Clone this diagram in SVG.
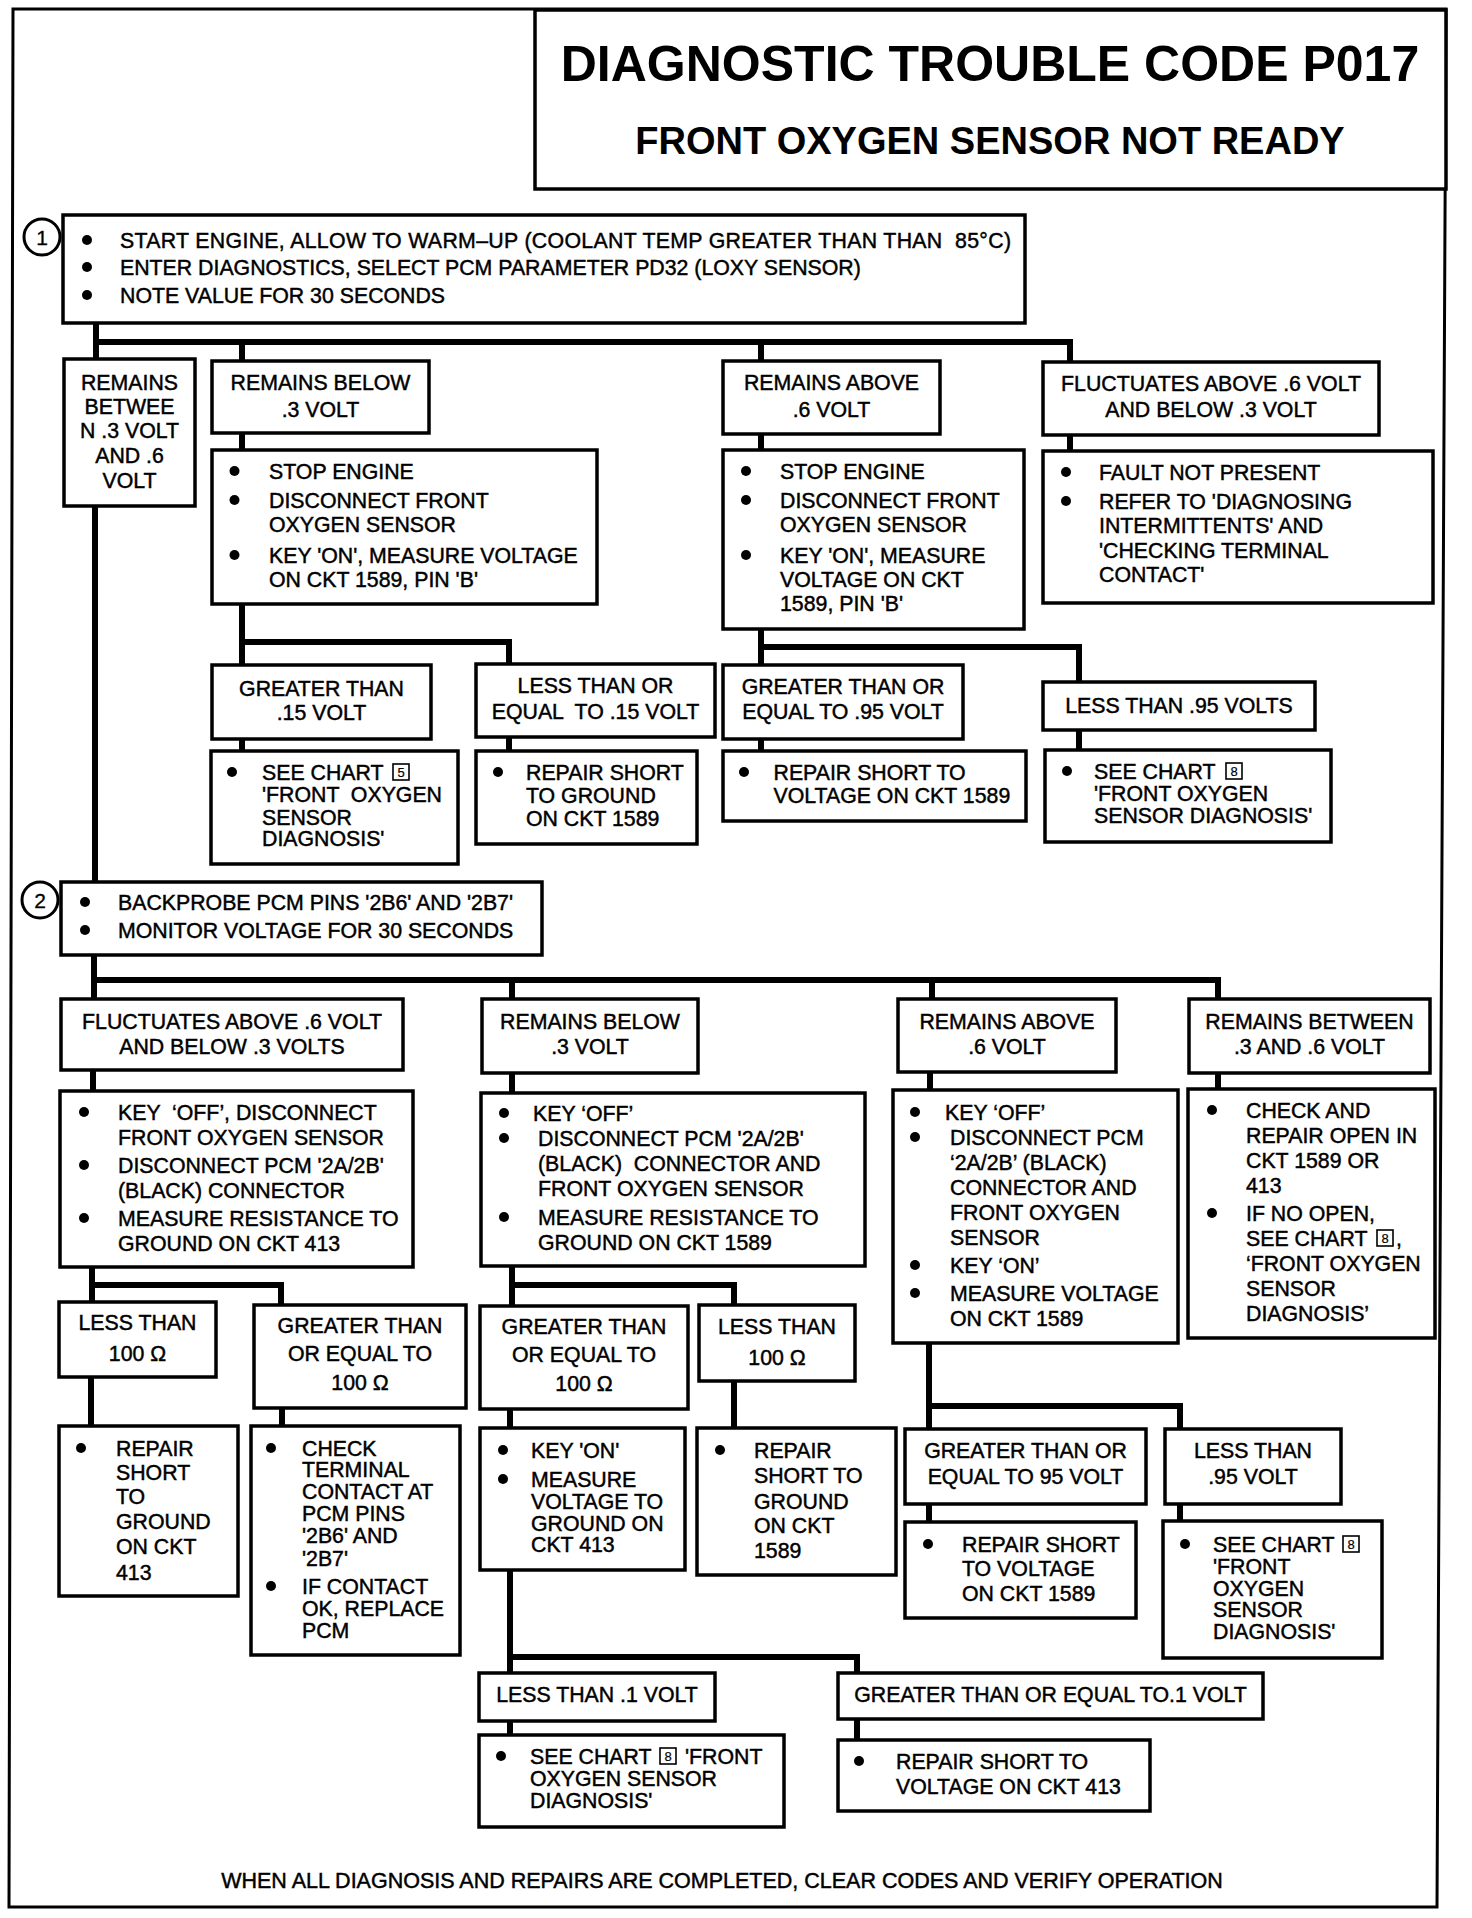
<svg xmlns="http://www.w3.org/2000/svg" width="1472" height="1918" viewBox="0 0 1472 1918">
<style>
text{font-family:"Liberation Sans",Arial,Helvetica,sans-serif;font-size:21.3px;fill:#000;stroke:#000;stroke-width:0.45}
.m{text-anchor:middle}
.t1{font-size:50px;font-weight:bold;stroke-width:0}
.t2{font-size:38px;font-weight:bold;stroke-width:0}
.ft{font-size:21.5px}
.n{font-size:21px;stroke-width:0.3}
.ic{font-size:13px;stroke-width:0.2}
.bx{fill:#fff;stroke:#000;stroke-width:3.5}
.ico{fill:none;stroke:#000;stroke-width:1.6}
.cn{fill:none;stroke:#000;stroke-width:6;stroke-linecap:square}
.d{fill:#000}
.circ{fill:#fff;stroke:#000;stroke-width:3}
</style>
<rect width="1472" height="1918" fill="#fff"/>
<polygon points="13,9 1446,9 1437,1907 9,1907" fill="none" stroke="#000" stroke-width="3"/>

<g id="connectors">
<path class="cn" d="M96 323 V359 M96 342 H1070 V362 M242 342 V361 M761 342 V361"/>
<path class="cn" d="M242 433 V450 M761 434 V450 M1070 435 V451"/>
<path class="cn" d="M242 604 V665 M242 642 H509 V664 M761 629 V665 M761 647 H1079 V682"/>
<path class="cn" d="M242 739 V751 M509 737 V751 M761 739 V751 M1079 730 V750"/>
<path class="cn" d="M95 506 V882"/>
<path class="cn" d="M94 955 V999 M94 980 H1218 V999 M512 980 V999 M932 980 V999"/>
<path class="cn" d="M93 1070 V1091 M512 1073 V1093 M930 1072 V1090 M1218 1073 V1089"/>
<path class="cn" d="M92 1267 V1302 M92 1285 H281 V1305 M512 1266 V1306 M512 1285 H734 V1305"/>
<path class="cn" d="M91 1377 V1426 M282 1408 V1426 M510 1409 V1428 M734 1381 V1428"/>
<path class="cn" d="M929 1343 V1429 M929 1406 H1180 V1429 M929 1504 V1522 M1180 1504 V1521"/>
<path class="cn" d="M510 1570 V1673 M510 1657 H857 V1673 M510 1721 V1735 M857 1719 V1740"/>
</g>

<g id="title">
<rect class="bx" x="535" y="10" width="911" height="179" stroke-width="4"/>
<text class="t1 m" x="990" y="81">DIAGNOSTIC TROUBLE CODE P017</text>
<text class="t2 m" x="990" y="154">FRONT OXYGEN SENSOR NOT READY</text>
</g>

<g id="step1">
<circle class="circ" cx="42" cy="237" r="18"/>
<text class="n m" x="42" y="245">1</text>
<rect class="bx" x="63" y="215" width="962" height="108"/>
<circle class="d" cx="87" cy="240" r="5"/><text x="120" y="248" xml:space="preserve" textLength="891" lengthAdjust="spacing">START ENGINE, ALLOW TO WARM–UP (COOLANT TEMP GREATER THAN THAN  85°C)</text>
<circle class="d" cx="87" cy="267" r="5"/><text x="120" y="275">ENTER DIAGNOSTICS, SELECT PCM PARAMETER PD32 (LOXY SENSOR)</text>
<circle class="d" cx="87" cy="295" r="5"/><text x="120" y="303">NOTE VALUE FOR 30 SECONDS</text>
</g>

<g id="remains-between-1">
<rect class="bx" x="64" y="359" width="131" height="147"/>
<text class="m" x="129.5" y="390">REMAINS</text>
<text class="m" x="129.5" y="414">BETWEE</text>
<text class="m" x="129.5" y="438">N .3 VOLT</text>
<text class="m" x="129.5" y="463">AND .6</text>
<text class="m" x="129.5" y="488">VOLT</text>
</g>

<g id="remains-below-1">
<rect class="bx" x="212" y="361" width="217" height="72"/>
<text class="m" x="320.5" y="390">REMAINS BELOW</text>
<text class="m" x="320.5" y="417">.3 VOLT</text>
</g>

<g id="remains-above-1">
<rect class="bx" x="723" y="361" width="217" height="73"/>
<text class="m" x="831.5" y="390">REMAINS ABOVE</text>
<text class="m" x="831.5" y="417">.6 VOLT</text>
</g>

<g id="fluctuates-1">
<rect class="bx" x="1043" y="362" width="336" height="73"/>
<text class="m" x="1211" y="391">FLUCTUATES ABOVE .6 VOLT</text>
<text class="m" x="1211" y="417">AND BELOW .3 VOLT</text>
</g>

<g id="stop-engine-a">
<rect class="bx" x="212" y="450" width="385" height="154"/>
<circle class="d" cx="234.5" cy="471" r="5"/><text x="269" y="479">STOP ENGINE</text>
<circle class="d" cx="234.5" cy="500" r="5"/><text x="269" y="508">DISCONNECT FRONT</text>
<text x="269" y="532">OXYGEN SENSOR</text>
<circle class="d" cx="234.5" cy="555" r="5"/><text x="269" y="563">KEY 'ON', MEASURE VOLTAGE</text>
<text x="269" y="587">ON CKT 1589, PIN 'B'</text>
</g>

<g id="stop-engine-b">
<rect class="bx" x="723" y="450" width="301" height="179"/>
<circle class="d" cx="746" cy="471" r="5"/><text x="780" y="479">STOP ENGINE</text>
<circle class="d" cx="746" cy="500" r="5"/><text x="780" y="508">DISCONNECT FRONT</text>
<text x="780" y="532">OXYGEN SENSOR</text>
<circle class="d" cx="746" cy="555" r="5"/><text x="780" y="563">KEY 'ON', MEASURE</text>
<text x="780" y="587">VOLTAGE ON CKT</text>
<text x="780" y="611">1589, PIN 'B'</text>
</g>

<g id="fault-not-present">
<rect class="bx" x="1043" y="451" width="390" height="152"/>
<circle class="d" cx="1066" cy="472" r="5"/><text x="1099" y="480">FAULT NOT PRESENT</text>
<circle class="d" cx="1066" cy="501" r="5"/><text x="1099" y="509">REFER TO 'DIAGNOSING</text>
<text x="1099" y="533">INTERMITTENTS' AND</text>
<text x="1099" y="558">'CHECKING TERMINAL</text>
<text x="1099" y="582">CONTACT'</text>
</g>

<g id="gt-15">
<rect class="bx" x="212" y="665" width="219" height="74"/>
<text class="m" x="321.5" y="696">GREATER THAN</text>
<text class="m" x="321.5" y="720">.15 VOLT</text>
</g>

<g id="le-15">
<rect class="bx" x="476" y="664" width="239" height="73"/>
<text class="m" x="595.5" y="693">LESS THAN OR</text>
<text class="m" x="595.5" y="719" xml:space="preserve">EQUAL  TO .15 VOLT</text>
</g>

<g id="ge-95">
<rect class="bx" x="723" y="665" width="240" height="74"/>
<text class="m" x="843" y="694">GREATER THAN OR</text>
<text class="m" x="843" y="719">EQUAL TO .95 VOLT</text>
</g>

<g id="lt-95">
<rect class="bx" x="1043" y="682" width="272" height="48"/>
<text class="m" x="1179" y="713">LESS THAN .95 VOLTS</text>
</g>

<g id="see-chart-a">
<rect class="bx" x="211" y="751" width="247" height="113"/>
<circle class="d" cx="232" cy="772" r="5"/><text x="262" y="780">SEE CHART</text>
<rect class="ico" x="393" y="764" width="16" height="16"/><text class="ic m" x="401" y="777">5</text>
<text x="262" y="802" xml:space="preserve">'FRONT  OXYGEN</text>
<text x="262" y="825">SENSOR</text>
<text x="262" y="846">DIAGNOSIS'</text>
</g>

<g id="repair-ground-1589-a">
<rect class="bx" x="476" y="751" width="221" height="93"/>
<circle class="d" cx="498" cy="772" r="5"/><text x="526" y="780">REPAIR SHORT</text>
<text x="526" y="803">TO GROUND</text>
<text x="526" y="826">ON CKT 1589</text>
</g>

<g id="repair-voltage-1589-a">
<rect class="bx" x="723" y="751" width="303" height="70"/>
<circle class="d" cx="744" cy="772" r="5"/><text x="773.5" y="780">REPAIR SHORT TO</text>
<text x="773.5" y="803">VOLTAGE ON CKT 1589</text>
</g>

<g id="see-chart-b">
<rect class="bx" x="1045" y="750" width="286" height="92"/>
<circle class="d" cx="1067" cy="771" r="5"/><text x="1094" y="779">SEE CHART</text>
<rect class="ico" x="1226" y="763" width="16" height="16"/><text class="ic m" x="1234" y="776">8</text>
<text x="1094" y="801">'FRONT OXYGEN</text>
<text x="1094" y="823">SENSOR DIAGNOSIS'</text>
</g>

<g id="step2">
<circle class="circ" cx="40" cy="900" r="18"/>
<text class="n m" x="40" y="908">2</text>
<rect class="bx" x="61" y="882" width="481" height="73"/>
<circle class="d" cx="85" cy="902" r="5"/><text x="118" y="910">BACKPROBE PCM PINS '2B6' AND '2B7'</text>
<circle class="d" cx="85" cy="930" r="5"/><text x="118" y="938">MONITOR VOLTAGE FOR 30 SECONDS</text>
</g>

<g id="fluctuates-2">
<rect class="bx" x="61" y="999" width="342" height="71"/>
<text class="m" x="232" y="1029">FLUCTUATES ABOVE .6 VOLT</text>
<text class="m" x="232" y="1054">AND BELOW .3 VOLTS</text>
</g>

<g id="remains-below-2">
<rect class="bx" x="482" y="999" width="216" height="74"/>
<text class="m" x="590" y="1029">REMAINS BELOW</text>
<text class="m" x="590" y="1054">.3 VOLT</text>
</g>

<g id="remains-above-2">
<rect class="bx" x="898" y="999" width="218" height="73"/>
<text class="m" x="1007" y="1029">REMAINS ABOVE</text>
<text class="m" x="1007" y="1054">.6 VOLT</text>
</g>

<g id="remains-between-2">
<rect class="bx" x="1189" y="999" width="241" height="74"/>
<text class="m" x="1309.5" y="1029">REMAINS BETWEEN</text>
<text class="m" x="1309.5" y="1054">.3 AND .6 VOLT</text>
</g>

<g id="key-off-a">
<rect class="bx" x="60" y="1091" width="353" height="176"/>
<circle class="d" cx="84" cy="1112" r="5"/><text x="118" y="1120" xml:space="preserve">KEY  ‘OFF’, DISCONNECT</text>
<text x="118" y="1145">FRONT OXYGEN SENSOR</text>
<circle class="d" cx="84" cy="1165" r="5"/><text x="118" y="1173">DISCONNECT PCM '2A/2B'</text>
<text x="118" y="1198">(BLACK) CONNECTOR</text>
<circle class="d" cx="84" cy="1218" r="5"/><text x="118" y="1226">MEASURE RESISTANCE TO</text>
<text x="118" y="1251">GROUND ON CKT 413</text>
</g>

<g id="key-off-b">
<rect class="bx" x="481" y="1093" width="384" height="173"/>
<circle class="d" cx="504" cy="1113" r="5"/><text x="533" y="1121">KEY ‘OFF’</text>
<circle class="d" cx="504" cy="1138" r="5"/><text x="538" y="1146">DISCONNECT PCM '2A/2B'</text>
<text x="538" y="1171" xml:space="preserve">(BLACK)  CONNECTOR AND</text>
<text x="538" y="1196">FRONT OXYGEN SENSOR</text>
<circle class="d" cx="504" cy="1217" r="5"/><text x="538" y="1225">MEASURE RESISTANCE TO</text>
<text x="538" y="1250">GROUND ON CKT 1589</text>
</g>

<g id="key-off-c">
<rect class="bx" x="893" y="1090" width="285" height="253"/>
<circle class="d" cx="915" cy="1112" r="5"/><text x="945" y="1120">KEY ‘OFF’</text>
<circle class="d" cx="915" cy="1137" r="5"/><text x="950" y="1145">DISCONNECT PCM</text>
<text x="950" y="1170">‘2A/2B’ (BLACK)</text>
<text x="950" y="1195">CONNECTOR AND</text>
<text x="950" y="1220">FRONT OXYGEN</text>
<text x="950" y="1245">SENSOR</text>
<circle class="d" cx="915" cy="1265" r="5"/><text x="950" y="1273">KEY ‘ON’</text>
<circle class="d" cx="915" cy="1293" r="5"/><text x="950" y="1301">MEASURE VOLTAGE</text>
<text x="950" y="1326">ON CKT 1589</text>
</g>

<g id="check-repair-open">
<rect class="bx" x="1188" y="1089" width="247" height="249"/>
<circle class="d" cx="1212" cy="1110" r="5"/><text x="1246" y="1118">CHECK AND</text>
<text x="1246" y="1143">REPAIR OPEN IN</text>
<text x="1246" y="1168">CKT 1589 OR</text>
<text x="1246" y="1193">413</text>
<circle class="d" cx="1212" cy="1213" r="5"/><text x="1246" y="1221">IF NO OPEN,</text>
<text x="1246" y="1246">SEE CHART</text>
<rect class="ico" x="1377" y="1230" width="16" height="16"/><text class="ic m" x="1385" y="1243">8</text>
<text x="1396" y="1246">,</text>
<text x="1246" y="1271">‘FRONT OXYGEN</text>
<text x="1246" y="1296">SENSOR</text>
<text x="1246" y="1321">DIAGNOSIS’</text>
</g>

<g id="lt-100-a">
<rect class="bx" x="59" y="1302" width="157" height="75"/>
<text class="m" x="137.5" y="1330">LESS THAN</text>
<text class="m" x="137.5" y="1361">100 Ω</text>
</g>

<g id="ge-100-a">
<rect class="bx" x="254" y="1305" width="212" height="103"/>
<text class="m" x="360" y="1333">GREATER THAN</text>
<text class="m" x="360" y="1361">OR EQUAL TO</text>
<text class="m" x="360" y="1390">100 Ω</text>
</g>

<g id="ge-100-b">
<rect class="bx" x="480" y="1306" width="208" height="103"/>
<text class="m" x="584" y="1334">GREATER THAN</text>
<text class="m" x="584" y="1362">OR EQUAL TO</text>
<text class="m" x="584" y="1391">100 Ω</text>
</g>

<g id="lt-100-b">
<rect class="bx" x="699" y="1305" width="156" height="76"/>
<text class="m" x="777" y="1334">LESS THAN</text>
<text class="m" x="777" y="1365">100 Ω</text>
</g>

<g id="repair-ground-413">
<rect class="bx" x="59" y="1426" width="179" height="170"/>
<circle class="d" cx="81" cy="1448" r="5"/><text x="116" y="1456">REPAIR</text>
<text x="116" y="1480">SHORT</text>
<text x="116" y="1504">TO</text>
<text x="116" y="1529">GROUND</text>
<text x="116" y="1554">ON CKT</text>
<text x="116" y="1580">413</text>
</g>

<g id="check-terminal">
<rect class="bx" x="251" y="1426" width="209" height="229"/>
<circle class="d" cx="271" cy="1448" r="5"/><text x="302" y="1456">CHECK</text>
<text x="302" y="1477">TERMINAL</text>
<text x="302" y="1499">CONTACT AT</text>
<text x="302" y="1521">PCM PINS</text>
<text x="302" y="1543">'2B6' AND</text>
<text x="302" y="1566">'2B7'</text>
<circle class="d" cx="271" cy="1586" r="5"/><text x="302" y="1594">IF CONTACT</text>
<text x="302" y="1616">OK, REPLACE</text>
<text x="302" y="1638">PCM</text>
</g>

<g id="key-on-measure">
<rect class="bx" x="480" y="1428" width="205" height="142"/>
<circle class="d" cx="503" cy="1450" r="5"/><text x="531" y="1458">KEY 'ON'</text>
<circle class="d" cx="503" cy="1479" r="5"/><text x="531" y="1487">MEASURE</text>
<text x="531" y="1509">VOLTAGE TO</text>
<text x="531" y="1531">GROUND ON</text>
<text x="531" y="1552">CKT 413</text>
</g>

<g id="repair-ground-1589-b">
<rect class="bx" x="697" y="1428" width="199" height="147"/>
<circle class="d" cx="720" cy="1450" r="5"/><text x="754" y="1458">REPAIR</text>
<text x="754" y="1483">SHORT TO</text>
<text x="754" y="1509">GROUND</text>
<text x="754" y="1533">ON CKT</text>
<text x="754" y="1558">1589</text>
</g>

<g id="ge-95-b">
<rect class="bx" x="905" y="1429" width="241" height="75"/>
<text class="m" x="1025.5" y="1458">GREATER THAN OR</text>
<text class="m" x="1025.5" y="1484">EQUAL TO 95 VOLT</text>
</g>

<g id="lt-95-b">
<rect class="bx" x="1165" y="1429" width="176" height="75"/>
<text class="m" x="1253" y="1458">LESS THAN</text>
<text class="m" x="1253" y="1484">.95 VOLT</text>
</g>

<g id="repair-voltage-1589-b">
<rect class="bx" x="905" y="1522" width="231" height="96"/>
<circle class="d" cx="928" cy="1544" r="5"/><text x="962" y="1552">REPAIR SHORT</text>
<text x="962" y="1576">TO VOLTAGE</text>
<text x="962" y="1601">ON CKT 1589</text>
</g>

<g id="see-chart-c">
<rect class="bx" x="1163" y="1521" width="219" height="137"/>
<circle class="d" cx="1185" cy="1544" r="5"/><text x="1213" y="1552">SEE CHART</text>
<rect class="ico" x="1343" y="1536" width="16" height="16"/><text class="ic m" x="1351" y="1549">8</text>
<text x="1213" y="1574">'FRONT</text>
<text x="1213" y="1596">OXYGEN</text>
<text x="1213" y="1617">SENSOR</text>
<text x="1213" y="1639">DIAGNOSIS'</text>
</g>

<g id="lt-01">
<rect class="bx" x="479" y="1673" width="236" height="48"/>
<text class="m" x="597" y="1702">LESS THAN .1 VOLT</text>
</g>

<g id="ge-01">
<rect class="bx" x="838" y="1673" width="425" height="46"/>
<text class="m" x="1050.5" y="1702">GREATER THAN OR EQUAL TO.1 VOLT</text>
</g>

<g id="see-chart-d">
<rect class="bx" x="479" y="1735" width="305" height="92"/>
<circle class="d" cx="501" cy="1756" r="5"/><text x="530" y="1764">SEE CHART</text>
<rect class="ico" x="660" y="1748" width="16" height="16"/><text class="ic m" x="668" y="1761">8</text>
<text x="685" y="1764">'FRONT</text>
<text x="530" y="1786">OXYGEN SENSOR</text>
<text x="530" y="1808">DIAGNOSIS'</text>
</g>

<g id="repair-voltage-413">
<rect class="bx" x="838" y="1740" width="312" height="71"/>
<circle class="d" cx="859" cy="1761" r="5"/><text x="896" y="1769">REPAIR SHORT TO</text>
<text x="896" y="1794">VOLTAGE ON CKT 413</text>
</g>

<g id="footer">
<text class="ft m" x="722" y="1888">WHEN ALL DIAGNOSIS AND REPAIRS ARE COMPLETED, CLEAR CODES AND VERIFY OPERATION</text>
</g>
</svg>
